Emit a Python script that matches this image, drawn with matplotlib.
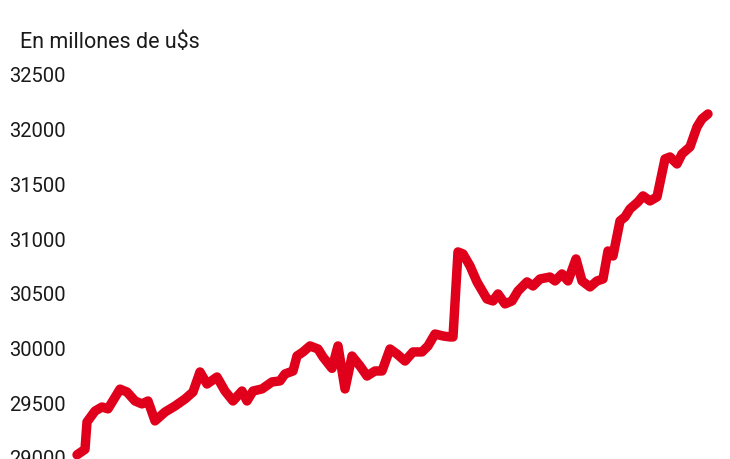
import matplotlib
matplotlib.use("Agg")
import matplotlib.pyplot as plt

# Data (x = day index, y = millones de u$s)
dias = [0, 8, 10, 18, 25, 31, 43, 50, 58, 65, 71, 78, 88, 98, 108, 116,
        123, 130, 140, 148, 156, 165, 170, 176, 185, 195, 203, 208, 216,
        220, 226, 233, 241, 246, 255, 261, 268, 275, 283, 290, 298, 305,
        313, 320, 328, 336, 345, 351, 358, 366, 373, 376, 381, 386, 393,
        400, 410, 416, 421, 428, 435, 441, 450, 456, 463, 473, 478, 485,
        491, 499, 505, 513, 520, 526, 531, 536, 543, 548, 553, 561, 566,
        573, 580, 588, 593, 600, 605, 613, 620, 625, 631]
valores = [29020, 29070, 29320, 29420, 29457, 29440, 29620, 29594, 29512,
           29485, 29512, 29330, 29411, 29466, 29530, 29594, 29777, 29667,
           29731, 29603, 29512, 29603, 29512, 29603, 29622, 29686, 29695,
           29759, 29786, 29923, 29960, 30015, 29987, 29914, 29810, 30015,
           29622, 29923, 29832, 29740, 29786, 29786, 29987, 29941, 29877,
           29960, 29960, 30015, 30124, 30106, 30097, 30097, 30874, 30856,
           30746, 30600, 30444, 30426, 30490, 30399, 30426, 30517, 30600,
           30563, 30627, 30645, 30609, 30673, 30609, 30810, 30609, 30554,
           30609, 30627, 30883, 30837, 31157, 31194, 31267, 31331, 31386,
           31340, 31377, 31724, 31742, 31678, 31770, 31834, 32016, 32090,
           32135]
yticks = [29000, 29500, 30000, 30500, 31000, 31500, 32000, 32500]
titulo = "En millones de u$s"

fam = "Roboto"

fig = plt.figure(figsize=(7.3, 4.6), dpi=100)
ax = fig.add_axes([72 / 730, 2 / 460, 643 / 730, 383 / 460])
ax.plot(dias, valores, color="#e0001b", lw=6.8, solid_capstyle="round",
        solid_joinstyle="round", clip_on=False)
ax.set_xlim(-5, 638)
ax.set_ylim(29000, 32500)
ax.set_yticks(yticks)
ax.set_yticklabels([str(v) for v in yticks], fontsize=14.5, family=fam,
                   color="#1a1a1a")
ax.tick_params(axis="y", length=0, pad=4.5)
ax.set_xticks([])
for s in ax.spines.values():
    s.set_visible(False)
fig.text(20 / 730, 1 - 42 / 460, titulo, fontsize=15.5, family=fam,
         color="#1a1a1a", va="center", ha="left")
fig.savefig("out.png", dpi=100)
